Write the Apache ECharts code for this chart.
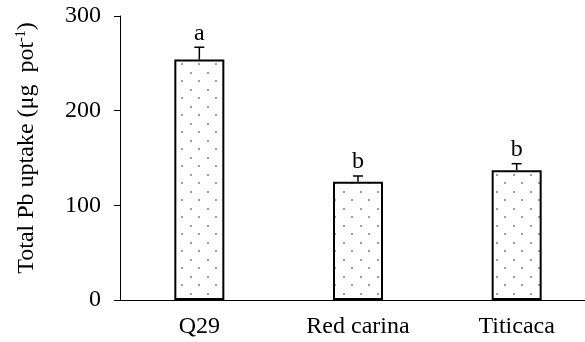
<!DOCTYPE html>
<html><head><meta charset="utf-8">
<script src="https://cdn.jsdelivr.net/npm/echarts@6/dist/echarts.min.js"></script>
<style>html,body{margin:0;padding:0;background:#fff;overflow:hidden;width:585px;height:342px}#c{width:600px;height:342px}</style>
</head><body><div id="c"></div>
<script>
var categories = ['Q29', 'Red carina', 'Titicaca'];
var values = [254, 125, 137];
var errors = [13, 6, 7];
var letters = ['a', 'b', 'b'];
var yTicks = [0, 100, 200, 300];

var FONT = '"Liberation Serif", "Times New Roman", serif';
var pc = document.createElement('canvas');
pc.width = 17; pc.height = 17;
var g = pc.getContext('2d');
g.fillStyle = '#fff'; g.fillRect(0, 0, 17, 17);
g.fillStyle = '#a0a0a0';
g.fillRect(3, 4, 2, 2);
g.fillRect(11, 12, 2, 2);

var chart = echarts.init(document.getElementById('c'));
chart.setOption({
  animation: false,
  grid: {left: 120, top: 16, height: 284, width: 476},
  xAxis: {
    type: 'category', data: categories,
    axisLine: {lineStyle: {color: '#000', width: 1}},
    axisTick: {show: false},
    axisLabel: {color: '#000', fontFamily: FONT, fontSize: 24, margin: 15}
  },
  yAxis: {
    type: 'value', min: yTicks[0], max: yTicks[yTicks.length - 1], interval: 100,
    splitLine: {show: false},
    axisLine: {show: true, lineStyle: {color: '#000', width: 1}},
    axisTick: {show: true, length: 6, lineStyle: {color: '#000'}},
    axisLabel: {color: '#000', fontFamily: FONT, fontSize: 24, margin: 19}
  },
  graphic: [{
    type: 'text', x: 27, y: 148, rotation: Math.PI / 2,
    style: {
      text: '{n|Total Pb uptake (μg  pot}{s|-1}{n|)}',
      align: 'center', verticalAlign: 'middle',
      rich: {
        n: {fontFamily: FONT, fontSize: 24, fill: '#000'},
        s: {fontFamily: FONT, fontSize: 14, fill: '#000', verticalAlign: 'top', padding: [0, 0, 12, 0]}
      }
    }
  }],
  series: [{
    type: 'bar', data: values, barWidth: 50,
    itemStyle: {color: {image: pc, repeat: 'repeat'}, borderColor: '#000', borderWidth: 2}
  }, {
    type: 'custom',
    data: values.map(function (v, i) { return [i, v, errors[i]]; }),
    renderItem: function (params, api) {
      var i = api.value(0), v = api.value(1), e = api.value(2);
      var p0 = api.coord([i, v]);
      var p1 = api.coord([i, v + e]);
      var x = p0[0];
      return {
        type: 'group', children: [
          {type: 'line', shape: {x1: x, y1: p0[1], x2: x, y2: p1[1]}, style: {stroke: '#000', lineWidth: 1.5}},
          {type: 'line', shape: {x1: x - 5, y1: p1[1], x2: x + 5, y2: p1[1]}, style: {stroke: '#000', lineWidth: 1.5}},
          {type: 'text', style: {text: letters[i], x: x, y: p1[1] - 2, textAlign: 'center', textVerticalAlign: 'bottom', font: '24px ' + FONT, fill: '#000'}}
        ]
      };
    },
    z: 5
  }]
});
</script></body></html>
